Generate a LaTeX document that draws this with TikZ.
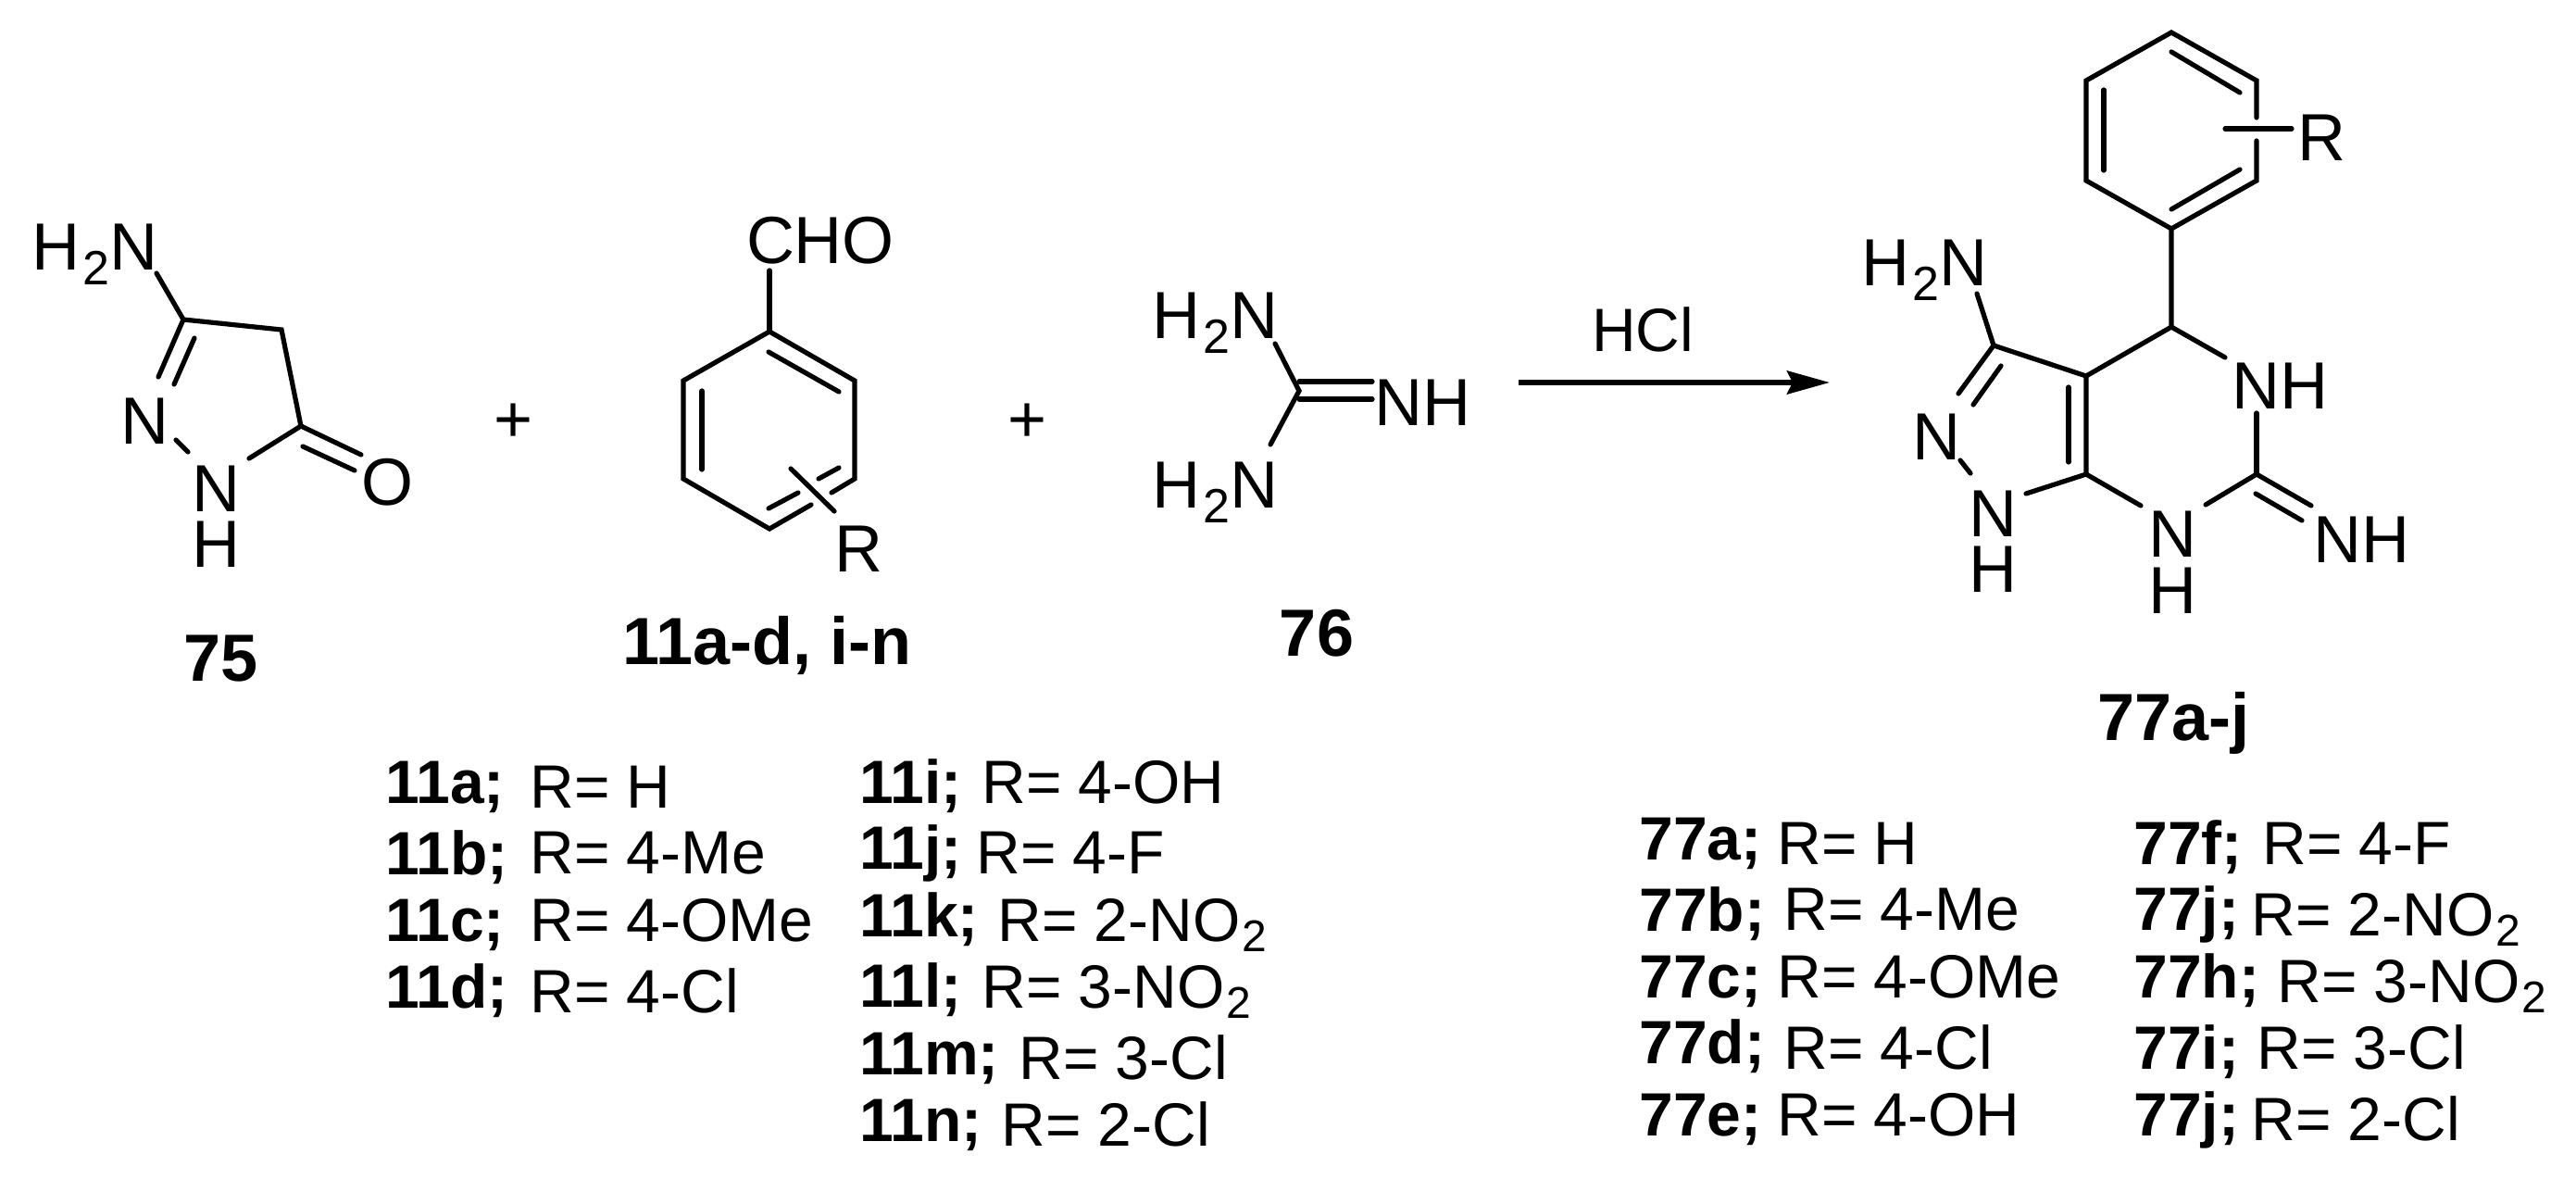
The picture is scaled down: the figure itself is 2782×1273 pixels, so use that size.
\documentclass[tikz,border=0pt]{standalone}
\usepackage{fontspec}
\setmainfont{Liberation Sans}
\usetikzlibrary{arrows.meta}
\newcommand{\atomtwo}{\kern1.5pt\raisebox{-8pt}{\fontsize{26}{26}\selectfont 2}}
\newcommand{\listtwo}{\kern1pt\raisebox{-5.5pt}{\fontsize{24}{24}\selectfont 2}}
\tikzset{
  bond/.style={line width=2.6pt,line cap=round},
  atom/.style={font=\fontsize{36}{36}\selectfont,inner sep=0pt,anchor=base},
  atomw/.style={atom,anchor=base west},
  cmpd/.style={font=\fontsize{36}{36}\selectfont\bfseries,inner sep=0pt,anchor=base},
  cmpdw/.style={cmpd,anchor=base west},
  listbold/.style={font=\fontsize{33}{33}\selectfont\bfseries,inner sep=0pt,anchor=base west},
  listtext/.style={font=\fontsize{33}{33}\selectfont,inner sep=0pt,anchor=base west}
}

\begin{document}
\begin{tikzpicture}[x=0.5pt,y=-0.5pt]
\useasboundingbox (0,0) rectangle (2782,1273);

\node[atomw] (h2nA) at (34,292) {H\atomtwo N};
\node[atom] (nA) at (156,479) {N};
\node[atom] (nhA) at (233,552) {N};
\node[atom] (hA) at (233,612) {H};
\node[atom] (oA) at (418,545) {O};
\node[cmpd] (lblA) at (239,735) {75};
\coordinate (c3A) at (198,345);
\coordinate (c4A) at (304,356);
\coordinate (c5A) at (325,460);
\coordinate (e1A) at (169,295);
\coordinate (e2A) at (171,407);
\coordinate (e3A) at (210,365);
\coordinate (e4A) at (188,415);
\coordinate (e5A) at (190,475);
\coordinate (e6A) at (203,488);
\coordinate (e7A) at (269,495);
\coordinate (e8A) at (390,491);
\coordinate (e9A) at (327,482);
\coordinate (e10A) at (383,508);
\draw[bond] (e1A) -- (c3A) -- (c4A) -- (c5A) -- (e7A);
\draw[bond] (c3A) -- (e2A);
\draw[bond] (e3A) -- (e4A);
\draw[bond] (e5A) -- (e6A);
\draw[bond] (c5A) -- (e8A);
\draw[bond] (e9A) -- (e10A);

\node[atom] (plusA) at (555,477) {+};

\node[atom] (cho) at (886,285) {CHO};
\node[atomw] (rB) at (901,617) {R};
\node[cmpdw] (lblB) at (672,717) {11a-d, i-n};
\coordinate (b1) at (831,358);
\coordinate (b2) at (923,411);
\coordinate (b3) at (923,517);
\coordinate (b4) at (831,571);
\coordinate (b5) at (738,517);
\coordinate (b6) at (738,411);
\coordinate (e1B) at (831,292);
\coordinate (e2B) at (830,380);
\coordinate (e3B) at (906,423);
\coordinate (e4B) at (758,422);
\coordinate (e5B) at (758,507);
\coordinate (e6B) at (898,532);
\coordinate (e7B) at (876,545);
\coordinate (e8B) at (906,505);
\coordinate (e9B) at (884,517);
\coordinate (e10B) at (862,532);
\coordinate (e11B) at (830,549);
\coordinate (e12B) at (854,506);
\coordinate (e13B) at (901,552);
\draw[bond] (e6B) -- (b3) -- (b2) -- (b1) -- (b6) -- (b5) -- (b4) -- (e7B);
\draw[bond] (b1) -- (e1B);
\draw[bond] (e2B) -- (e3B);
\draw[bond] (e4B) -- (e5B);
\draw[bond] (e8B) -- (e9B);
\draw[bond] (e10B) -- (e11B);
\draw[bond] (e12B) -- (e13B);

\node[atom] (plusB) at (1110,477) {+};

\node[atomw] (h2nC) at (1244,365) {H\atomtwo N};
\node[atomw] (h2nD) at (1244,548) {H\atomtwo N};
\node[atomw] (nhC) at (1484,459) {NH};
\node[cmpd] (lblC) at (1422,708) {76};
\coordinate (cC) at (1403,422);
\coordinate (e1C) at (1377,371);
\coordinate (e2C) at (1372,480);
\coordinate (e3C) at (1403,412);
\coordinate (e4C) at (1482,412);
\coordinate (e5C) at (1403,431);
\coordinate (e6C) at (1482,431);
\draw[bond] (e1C) -- (cC) -- (e2C);
\draw[bond] (e3C) -- (e4C);
\draw[bond] (e5C) -- (e6C);

\coordinate (arrA) at (1640,413);
\coordinate (arrB) at (1976,413);
\draw[line width=3pt,-{Stealth[length=23pt,width=12.5pt,inset=3pt]}] (arrA) -- (arrB);
\node[font=\fontsize{33}{33}\selectfont,inner sep=0pt,anchor=base] (hcl) at (1774,379) {HCl};

\node[atomw] (h2nE) at (2010,308) {H\atomtwo N};
\node[atom] (n2E) at (2091,496) {N};
\node[atom] (n1E) at (2152,579) {N};
\node[atom] (h1E) at (2152,639) {H};
\node[atom] (n8E) at (2346,601) {N};
\node[atom] (h8E) at (2346,662) {H};
\node[atomw] (nhE) at (2410,441) {NH};
\node[atomw] (nhF) at (2498,607) {NH};
\node[atomw] (rE) at (2481,174) {R};
\node[cmpdw] (lblE) at (2265,799) {77a-j};
\coordinate (p1) at (2345,35);
\coordinate (p2) at (2437,87);
\coordinate (p3) at (2437,195);
\coordinate (p4) at (2345,247);
\coordinate (p5) at (2253,195);
\coordinate (p6) at (2253,87);
\coordinate (c4E) at (2345,353);
\coordinate (c3aE) at (2253,406);
\coordinate (c7aE) at (2253,512);
\coordinate (c3E) at (2153,373);
\coordinate (c6E) at (2437,512);
\coordinate (e1E) at (2345,56);
\coordinate (e2E) at (2419,100);
\coordinate (e3E) at (2272,97);
\coordinate (e4E) at (2272,184);
\coordinate (e5E) at (2419,183);
\coordinate (e6E) at (2345,226);
\coordinate (e7E) at (2437,127);
\coordinate (e8E) at (2437,152);
\coordinate (e9E) at (2403,139);
\coordinate (e10E) at (2475,139);
\coordinate (e11E) at (2403,386);
\coordinate (e12E) at (2234,418);
\coordinate (e13E) at (2234,499);
\coordinate (e14E) at (2135,317);
\coordinate (e15E) at (2115,425);
\coordinate (e16E) at (2161,395);
\coordinate (e17E) at (2131,437);
\coordinate (e18E) at (2117,497);
\coordinate (e19E) at (2128,511);
\coordinate (e20E) at (2188,533);
\coordinate (e21E) at (2312,546);
\coordinate (e22E) at (2382,545);
\coordinate (e23E) at (2496,546);
\coordinate (e24E) at (2436,533);
\coordinate (e25E) at (2486,562);
\coordinate (e26E) at (2437,446);
\draw[bond] (e7E) -- (p2) -- (p1) -- (p6) -- (p5) -- (p4) -- (p3) -- (e8E);
\draw[bond] (e1E) -- (e2E);
\draw[bond] (e3E) -- (e4E);
\draw[bond] (e5E) -- (e6E);
\draw[bond] (e9E) -- (e10E);
\draw[bond] (p4) -- (c4E) -- (c3aE) -- (c7aE) -- (e20E);
\draw[bond] (c4E) -- (e11E);
\draw[bond] (e12E) -- (e13E);
\draw[bond] (c3aE) -- (c3E) -- (e14E);
\draw[bond] (c3E) -- (e15E);
\draw[bond] (e16E) -- (e17E);
\draw[bond] (e18E) -- (e19E);
\draw[bond] (c7aE) -- (e21E);
\draw[bond] (e22E) -- (c6E) -- (e23E);
\draw[bond] (e24E) -- (e25E);
\draw[bond] (c6E) -- (e26E);

\node[listbold] (a11) at (416,867) {11a;};
\node[listbold] (b11) at (416,944) {11b;};
\node[listbold] (c11) at (416,1016) {11c;};
\node[listbold] (d11) at (416,1088) {11d;};
\node[listtext] (ra11) at (572,872) {R= H};
\node[listtext] (rb11) at (572,943) {R= 4-Me};
\node[listtext] (rc11) at (572,1016) {R= 4-OMe};
\node[listtext] (rd11) at (572,1093) {R= 4-Cl};

\node[listbold] (i11) at (928,867) {11i;};
\node[listbold] (j11) at (928,938) {11j;};
\node[listbold] (k11) at (928,1011) {11k;};
\node[listbold] (l11) at (928,1087) {11l;};
\node[listbold] (m11) at (928,1160) {11m;};
\node[listbold] (n11) at (928,1232) {11n;};
\node[listtext] (ri11) at (1060,867) {R= 4-OH};
\node[listtext] (rj11) at (1054,943) {R= 4-F};
\node[listtext] (rk11) at (1077,1016) {R= 2-NO\listtwo};
\node[listtext] (rl11) at (1060,1088) {R= 3-NO\listtwo};
\node[listtext] (rm11) at (1100,1165) {R= 3-Cl};
\node[listtext] (rn11) at (1081,1237) {R= 2-Cl};

\node[listbold] (a77) at (1770,928) {77a;};
\node[listbold] (b77) at (1770,1005) {77b;};
\node[listbold] (c77) at (1770,1077) {77c;};
\node[listbold] (d77) at (1770,1148) {77d;};
\node[listbold] (e77) at (1770,1226) {77e;};
\node[listtext] (ra77) at (1919,933) {R= H};
\node[listtext] (rb77) at (1926,1004) {R= 4-Me};
\node[listtext] (rc77) at (1919,1077) {R= 4-OMe};
\node[listtext] (rd77) at (1926,1154) {R= 4-Cl};
\node[listtext] (re77) at (1919,1226) {R= 4-OH};

\node[listbold] (f77) at (2304,933) {77f;};
\node[listbold] (g77) at (2304,1004) {77j;};
\node[listbold] (h77) at (2304,1077) {77h;};
\node[listbold] (i77) at (2304,1154) {77i;};
\node[listbold] (j77) at (2304,1226) {77j;};
\node[listtext] (rf77) at (2443,933) {R= 4-F};
\node[listtext] (rg77) at (2431,1010) {R= 2-NO\listtwo};
\node[listtext] (rh77) at (2459,1082) {R= 3-NO\listtwo};
\node[listtext] (ri77) at (2437,1154) {R= 3-Cl};
\node[listtext] (rj77) at (2431,1231) {R= 2-Cl};
\end{tikzpicture}
\end{document}
